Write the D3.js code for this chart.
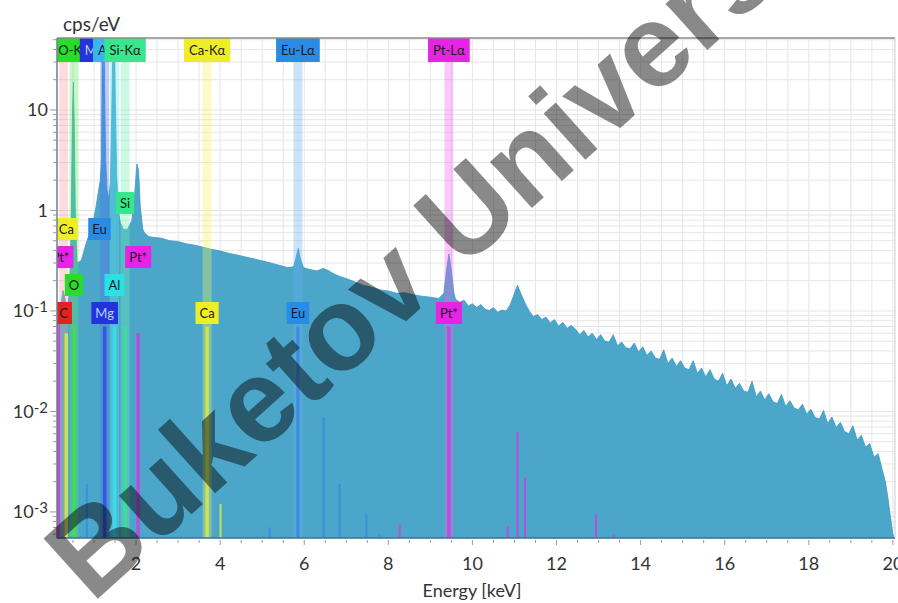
<!DOCTYPE html>
<html>
<head>
<meta charset="utf-8">
<script src="https://cdnjs.cloudflare.com/ajax/libs/d3/7.8.5/d3.min.js"></script>
<style>
  body { margin: 0; background: #fff; }
  svg { display: block; font-family: Lato, "Open Sans", sans-serif; }
</style>
</head>
<body>
<div id="chart"></div>
<script>
// spectrum (energy in keV, intensity in cps/eV)
const spectrumKeV = [
  0.12, 0.15, 0.2, 0.26, 0.3, 0.36, 0.42, 0.46, 0.49, 0.51, 0.53, 0.56, 0.6, 0.7, 0.8, 0.9,
  1.0, 1.05, 1.1, 1.15, 1.18, 1.2, 1.22, 1.24, 1.26, 1.28, 1.31, 1.35, 1.39, 1.42, 1.45, 1.48,
  1.51, 1.54, 1.58, 1.63, 1.7, 1.8, 1.9, 1.96, 2.02, 2.06, 2.1, 2.16,
  2.2, 2.3, 2.4, 2.6, 2.8, 3.0, 3.2, 3.4, 3.6, 3.8, 4.0, 4.2, 4.4, 4.6, 4.8, 5.0, 5.2, 5.4, 5.6,
  5.75, 5.82, 5.86, 5.9, 5.98, 6.1, 6.3, 6.45, 6.55, 6.7, 6.85, 7.0, 7.2, 7.4, 7.6, 7.8, 8.0,
  8.2, 8.4, 8.6, 8.8, 9.0, 9.2, 9.32, 9.38, 9.44, 9.5, 9.56,
  9.6, 9.7, 9.8, 9.9, 10.0, 10.1, 10.2, 10.3, 10.4, 10.5, 10.6, 10.7, 10.8, 10.9, 11.0, 11.07,
  11.15, 11.25, 11.35, 11.45, 11.55, 11.65, 11.75, 11.85, 11.95, 12.05, 12.15, 12.25, 12.35,
  12.45, 12.55, 12.65, 12.75, 12.85, 12.95, 13.05, 13.15, 13.25, 13.35, 13.45, 13.55, 13.65,
  13.75, 13.85, 13.95, 14.05, 14.15, 14.25, 14.35, 14.45, 14.55, 14.65, 14.75, 14.85, 14.95,
  15.05, 15.15, 15.25, 15.35, 15.45, 15.55, 15.65, 15.75, 15.85, 15.95, 16.05, 16.15, 16.25,
  16.35, 16.45, 16.55, 16.65, 16.75, 16.85, 16.95, 17.05, 17.15, 17.25, 17.35, 17.45, 17.55,
  17.65, 17.75, 17.85, 17.95, 18.05, 18.15, 18.25, 18.35, 18.45, 18.55, 18.65, 18.75, 18.85,
  18.95, 19.05, 19.15, 19.25, 19.35, 19.45, 19.55, 19.65, 19.75, 19.82, 19.88, 19.94, 20.0, 20.05
];
const spectrumCps = [
  0.0006, 0.04, 0.1, 0.16, 0.14, 0.1, 0.16, 0.9, 10, 19, 7, 0.7, 0.3, 0.32, 0.45, 0.6,
  0.85, 1.1, 1.5, 2.0, 3.2, 60, 14, 60, 9, 3, 1.6, 1.3, 1.9, 8, 60, 60,
  10, 2.2, 1.0, 0.75, 0.65, 0.65, 0.8, 1.3, 2.9, 2.5, 1.1, 0.65,
  0.6, 0.55, 0.54, 0.53, 0.5, 0.49, 0.465, 0.45, 0.43, 0.41, 0.395, 0.375, 0.36, 0.345, 0.33, 0.315, 0.3, 0.285, 0.27,
  0.275, 0.36, 0.42, 0.34, 0.27, 0.26, 0.25, 0.265, 0.255, 0.235, 0.22, 0.21, 0.195, 0.18, 0.172, 0.162, 0.158,
  0.15, 0.152, 0.145, 0.14, 0.137, 0.133, 0.15, 0.25, 0.37, 0.25, 0.15,
  0.13, 0.122, 0.128, 0.112, 0.118, 0.108, 0.116, 0.104, 0.101, 0.108, 0.097, 0.102, 0.1, 0.115, 0.15, 0.18,
  0.15, 0.12, 0.1, 0.088, 0.092, 0.082, 0.087, 0.076, 0.082, 0.071, 0.077, 0.067, 0.072,
  0.066, 0.058, 0.064, 0.055, 0.06, 0.052, 0.058, 0.05, 0.049, 0.058, 0.045, 0.049, 0.043,
  0.042, 0.048, 0.039, 0.044, 0.036, 0.04, 0.034, 0.033, 0.041, 0.03, 0.034, 0.028, 0.032,
  0.027, 0.026, 0.032, 0.024, 0.027, 0.022, 0.026, 0.021, 0.02, 0.024, 0.018, 0.021, 0.017,
  0.019, 0.016, 0.0155, 0.02, 0.014, 0.016, 0.013, 0.015, 0.0125, 0.012, 0.0148, 0.0112, 0.0128,
  0.0108, 0.0104, 0.0118, 0.0094, 0.0105, 0.0087, 0.0084, 0.0102, 0.0076, 0.0088, 0.0069, 0.0078, 0.0063,
  0.006, 0.0072, 0.0052, 0.0058, 0.0044, 0.0048, 0.0035, 0.0038, 0.0026, 0.002, 0.0014, 0.0009, 0.0006, 0.0005
];

// element lines marked at the top of the plot
const topLabels = ['C-Kα', 'O-Kα', 'Mg-Kα', 'Al-Kα', 'Si-Kα', 'Ca-Kα', 'Eu-Lα', 'Pt-Lα'];
const topElements = ['C', 'O', 'Mg', 'Al', 'Si', 'Ca', 'Eu', 'Pt'];
const topKeV = [0.277, 0.525, 1.254, 1.486, 1.74, 3.69, 5.85, 9.44];

// element tags inside the plot
const tagLabels = ['Si', 'Ca', 'Eu', 'Pt*', 'Pt*', 'O', 'Al', 'C', 'Mg', 'Ca', 'Eu', 'Pt*'];
const tagElements = ['Si', 'Ca', 'Eu', 'Pt', 'Pt', 'O', 'Al', 'C', 'Mg', 'Ca', 'Eu', 'Pt'];
const tagKeV = [1.74, 0.341, 1.13, 0.2, 2.05, 0.525, 1.486, 0.277, 1.254, 3.69, 5.85, 9.44];

// line markers rising from the bottom
const stemElements = ['Pt', 'Ca', 'O', 'Eu', 'Mg', 'Al', 'Si', 'Pt', 'Ca', 'Ca', 'Eu', 'Eu', 'Eu', 'Eu', 'Eu', 'Eu',
  'Pt', 'Pt', 'Pt', 'Pt', 'Pt', 'Pt', 'Pt'];
const stemKeV = [0.15, 0.341, 0.525, 0.83, 1.254, 1.486, 1.74, 2.05, 3.69, 4.01, 5.18, 5.85, 6.46, 6.84, 7.48, 7.79,
  8.27, 9.44, 10.84, 11.07, 11.25, 12.94, 13.36];
const stemCps = [0.08, 0.06, 0.07, 0.0019, 0.07, 0.07, 0.07, 0.06, 0.07, 0.0012, 0.0007, 0.07, 0.0088, 0.0019, 0.00094, 0.0006,
  0.00075, 0.07, 0.00072, 0.0062, 0.0022, 0.00094, 0.00059];

const xTickValues = [2, 4, 6, 8, 10, 12, 14, 16, 18, 20];
const yTickValues = [10, 1, 0.1, 0.01, 0.001];
const yTickExponents = ['', '', '-1', '-2', '-3'];

const WIDTH = 898, HEIGHT = 603;
const MARGIN = { TOP: 38, RIGHT: 3, BOTTOM: 65, LEFT: 57 };
const w = WIDTH - MARGIN.LEFT - MARGIN.RIGHT;
const h = HEIGHT - MARGIN.TOP - MARGIN.BOTTOM;
const FILL_COLOR = '#4ba6c9';
const GRID_COLOR = '#e7e5e8';
const TEXT_COLOR = '#333';
const LABEL_ROW_Y = [165, 191, 219, 247, 275];
const TAG_ROW = [0, 1, 1, 2, 2, 3, 3, 4, 4, 4, 4, 4];

const ELEMENT_COLOR = {
  C: '#e3211f', O: '#27dc2a', Mg: '#2433dc', Al: '#27e2e6', Si: '#36e78e',
  Ca: '#eeee26', Eu: '#2a8be4', Pt: '#e623e6'
};
const TOP_COLOR = Object.assign({}, ELEMENT_COLOR, { Al: '#3ab6ef' });
const BAND_COLOR = {
  C: '#f59a9a', O: '#5fe85f', Mg: '#4d6cf0', Al: '#5ee6ee', Si: '#6cefae',
  Ca: '#f4f45a', Eu: '#6aaef0', Pt: '#f060f0'
};
const STEM_COLOR = {
  C: '#e3211f', O: '#45e04a', Mg: '#2f55e0', Al: '#3ae0e8', Si: '#3fe096',
  Ca: '#d4e84a', Eu: '#3b8ce2', Pt: '#c346df'
};
const TEXT_ON = { Mg: '#b9d2ff' };

const svg = d3.select('#chart')
  .append('svg')
  .attr('width', WIDTH)
  .attr('height', HEIGHT);

const g = svg.append('g').attr('transform', `translate(${MARGIN.LEFT}, ${MARGIN.TOP})`);

//scales
const xScale = d3.scaleLinear().domain([0.12, 20.05]).range([0, w]);
const yScale = d3.scaleLog().domain([5.5e-4, 52]).range([h, 0]);

g.append('clipPath').attr('id', 'plot-clip')
  .append('rect').attr('width', w).attr('height', h);

const plot = g.append('g').attr('clip-path', 'url(#plot-clip)');

//grid
const minorY = [];
[-4, -3, -2, -1, 0, 1].forEach(e => {
  for (let k = 1; k <= 9; k++) minorY.push(k * Math.pow(10, e));
});
const gridY = minorY.filter(v => v >= 5.5e-4 && v <= 52);
const gridX = d3.range(0.5, 20.01, 0.5);

plot.append('g').selectAll('line').data(gridX).join('line')
  .attr('x1', d => xScale(d)).attr('x2', d => xScale(d))
  .attr('y1', 0).attr('y2', h)
  .attr('stroke', GRID_COLOR).attr('stroke-width', 1);
plot.append('g').selectAll('line').data(gridY).join('line')
  .attr('x1', 0).attr('x2', w)
  .attr('y1', d => yScale(d)).attr('y2', d => yScale(d))
  .attr('stroke', GRID_COLOR).attr('stroke-width', 1);

//spectrum
const spectrum = spectrumKeV.map((e, i) => ({ e, v: spectrumCps[i] }));
const area = d3.area()
  .x(d => xScale(d.e))
  .y0(h)
  .y1(d => yScale(Math.min(d.v, 60)));
plot.append('path')
  .datum(spectrum)
  .attr('d', area)
  .attr('fill', FILL_COLOR)
  .attr('stroke', '#3e9bc2')
  .attr('stroke-width', 0.8);

//bands under the top labels
plot.append('g').selectAll('rect').data(topKeV).join('rect')
  .attr('x', d => xScale(d) - 4.5)
  .attr('y', 24)
  .attr('width', 9)
  .attr('height', h - 24)
  .attr('fill', (d, i) => BAND_COLOR[topElements[i]])
  .attr('opacity', 0.35);

//stems from the bottom
plot.append('g').selectAll('line').data(stemKeV).join('line')
  .attr('x1', d => xScale(d)).attr('x2', d => xScale(d))
  .attr('y1', h)
  .attr('y2', (d, i) => yScale(stemCps[i]))
  .attr('stroke', (d, i) => STEM_COLOR[stemElements[i]])
  .attr('stroke-width', (d, i) => stemCps[i] > 0.05 ? 3.5 : 2)
  .attr('opacity', 0.9);

//tag boxes
function drawTag(parent, label, x, yc, fill, textFill, fontSize, padX, boxH) {
  const tag = parent.append('g');
  const rect = tag.append('rect').attr('fill', fill);
  const txt = tag.append('text')
    .attr('x', x).attr('y', yc)
    .attr('dy', '0.35em')
    .attr('text-anchor', 'middle')
    .attr('font-size', fontSize)
    .attr('fill', textFill)
    .text(label);
  const tw = txt.node().getComputedTextLength();
  rect.attr('x', x - tw / 2 - padX).attr('y', yc - boxH / 2)
    .attr('width', tw + 2 * padX).attr('height', boxH);
}

const tags = plot.append('g');
tagLabels.forEach((t, i) => {
  const el = tagElements[i];
  drawTag(tags, t, xScale(tagKeV[i]), LABEL_ROW_Y[TAG_ROW[i]], ELEMENT_COLOR[el],
    TEXT_ON[el] || '#1a1a1a', 13, 4, 22);
});

const topTags = plot.append('g');
topLabels.forEach((t, i) => {
  const el = topElements[i];
  drawTag(topTags, t, xScale(topKeV[i]), 12, TOP_COLOR[el],
    TEXT_ON[el] || '#1a1a1a', 13, 5, 24);
});

//frame
g.append('line').attr('x1', 0).attr('x2', w).attr('y1', 0).attr('y2', 0)
  .attr('stroke', '#8a8a8a').attr('stroke-width', 1.5);
g.append('line').attr('x1', w).attr('x2', w).attr('y1', 0).attr('y2', h)
  .attr('stroke', '#cfcfcf');
g.append('line').attr('x1', 0).attr('x2', 0).attr('y1', 0).attr('y2', h)
  .attr('stroke', '#6d7f8c').attr('stroke-width', 1.5);
g.append('line').attr('x1', 0).attr('x2', w).attr('y1', h).attr('y2', h)
  .attr('stroke', '#3d6f9a').attr('stroke-width', 1.5);

//y axis ticks
g.append('g').selectAll('line').data(gridY).join('line')
  .attr('x1', d => yTickValues.includes(d) ? -7 : -4).attr('x2', 0)
  .attr('y1', d => yScale(d)).attr('y2', d => yScale(d))
  .attr('stroke', '#9a9a9a');

const yLabels = g.append('g');
yTickValues.forEach((v, i) => {
  const t = yLabels.append('text')
    .attr('x', -9)
    .attr('y', yScale(v))
    .attr('dy', '0.36em')
    .attr('text-anchor', 'end')
    .attr('font-size', 18)
    .attr('fill', TEXT_COLOR);
  if (yTickExponents[i]) {
    t.append('tspan').text('10');
    t.append('tspan').attr('font-size', 15).attr('dy', '-0.35em').text(yTickExponents[i]);
  } else {
    t.text(v);
  }
});

//x axis ticks
g.append('g').selectAll('line').data(gridX).join('line')
  .attr('x1', d => xScale(d)).attr('x2', d => xScale(d))
  .attr('y1', h + 2).attr('y2', d => d % 2 === 0 ? h + 7 : h + 5)
  .attr('stroke', '#9a9a9a');

g.append('g').selectAll('text').data(xTickValues).join('text')
  .attr('x', d => xScale(d))
  .attr('y', h + 32)
  .attr('text-anchor', 'middle')
  .attr('font-size', 18)
  .attr('fill', TEXT_COLOR)
  .text(d => d);

//axis titles
svg.append('text')
  .attr('x', 472).attr('y', 597)
  .attr('text-anchor', 'middle')
  .attr('font-size', 18)
  .attr('fill', TEXT_COLOR)
  .text('Energy [keV]');

svg.append('text')
  .attr('x', 63).attr('y', 31)
  .attr('font-size', 19)
  .attr('fill', TEXT_COLOR)
  .text('cps/eV');

//watermark
svg.append('text')
  .attr('transform', 'translate(92, 604) rotate(-42)')
  .attr('font-family', '"Liberation Sans", Arial, sans-serif')
  .attr('font-weight', 'bold')
  .attr('font-size', 118)
  .attr('fill', '#000')
  .attr('opacity', 0.46)
  .text('Buketov University');
</script>
</body>
</html>
